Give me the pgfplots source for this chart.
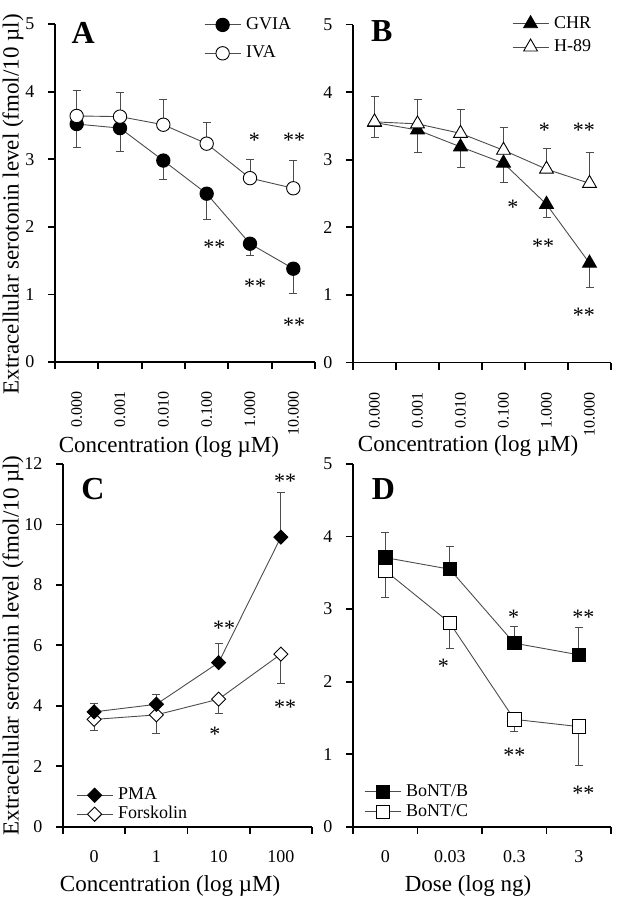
\documentclass[border=0pt]{standalone}
\usepackage{fontspec}
\setmainfont{Liberation Serif}
\usepackage{pgfplots}
\pgfplotsset{compat=1.18}

\newcommand{\fs}[1]{\fontsize{#1}{#1}\selectfont}

\tikzset{
  ast/.style={font=\fs{22}, yshift=-3.5pt},
  lett/.style={font=\bfseries\fs{32}},
}

\pgfplotsset{
  panel/.style={
    scale only axis,
    axis x line*=bottom, axis y line*=left,
    axis line style={line width=1.8pt, black},
    tick align=outside,
    major tick length=7pt, minor tick length=7pt,
    tick style={line width=1.8pt, black},
    major x tick style={draw=none},
    /pgf/number format/assume math mode=true,
    tick label style={font=\fs{18}},
    yticklabel style={xshift=-10pt},
    label style={font=\fs{23}},
    clip=false,
    legend style={draw=none, fill=none, inner sep=0pt, font=\fs{18},
      nodes={inner sep=1pt, text height=13pt, text depth=4pt},
      column sep=4pt, legend cell align=left, anchor=north west},
    legend image code/.code={\draw[mark repeat=2,mark phase=2,##1] plot coordinates {(0pt,0pt) (18pt,0pt) (36pt,0pt)};},
  },
  rotlab/.style={xticklabel style={yshift=-19pt, rotate=90, anchor=east, font=\fs{16}}},
  flatlab/.style={xticklabel style={yshift=-13pt}},
  ser/.style={line width=0.9pt, black!70},
  full/.style={mark options={draw=black, fill=black, line width=0.9pt, solid}},
  open/.style={mark options={draw=black, fill=white, line width=0.9pt, solid}},
  fulld/.style={mark options={draw=black, fill=black, line width=0.9pt, solid, rotate=45}},
  opend/.style={mark options={draw=black, fill=white, line width=0.9pt, solid, rotate=45}},
  ebm/.style={error bars/y dir=minus, error bars/y explicit,
    error bars/error bar style={line width=0.9pt, black!70},
    error bars/error mark options={rotate=90, mark size=4pt, line width=0.9pt, black!70}},
  ebp/.style={error bars/y dir=plus, error bars/y explicit,
    error bars/error bar style={line width=0.9pt, black!70},
    error bars/error mark options={rotate=90, mark size=4pt, line width=0.9pt, black!70}},
}

\begin{document}
\begin{tikzpicture}
\path[use as bounding box] (0pt,0pt) rectangle (619pt,-900pt);

% ---- A ----
\begin{axis}[panel, rotlab, at={(55pt,-362pt)}, anchor=south west, width=260pt, height=338pt,
  xmin=-0.5, xmax=5.5, ymin=0, ymax=5, ytick={0,...,5},
  xtick={0,...,5}, xticklabels={0.000,0.001,0.010,0.100,1.000,10.000},
  minor xtick={-0.5,0.5,...,5.5},
  xlabel={Concentration (log µM)},
  ylabel={Extracellular serotonin level (fmol/10 µl)},
  xlabel style={at={(axis description cs:0.438,-0.25)}, anchor=center},
  ylabel style={at={(axis description cs:-0.1615,0.467)}, anchor=center},
  legend style={at={(rel axis cs:0.573,1.026)}, row sep=9.4pt}]
\addplot[ser, mark=*, mark size=6.7pt, full, ebm] coordinates {
  (0,3.52) +- (0,0.35) (1,3.46) +- (0,0.34) (2,2.98) +- (0,0.28)
  (3,2.49) +- (0,0.38) (4,1.75) +- (0,0.17) (5,1.38) +- (0,0.37)};
\addlegendentry{GVIA}
\addplot[ser, mark=*, mark size=6.7pt, open, ebp] coordinates {
  (0,3.64) +- (0,0.37) (1,3.63) +- (0,0.36) (2,3.51) +- (0,0.37)
  (3,3.23) +- (0,0.32) (4,2.72) +- (0,0.27) (5,2.57) +- (0,0.41)};
\addlegendentry{IVA}
\node[lett] at (rel axis cs:0.108,0.973) {A};
\node[ast] at (axis cs:4.1,3.33) {*};
\node[ast] at (axis cs:5.02,3.33) {**};
\node[ast] at (axis cs:3.18,1.75) {**};
\node[ast] at (axis cs:4.12,1.17) {**};
\node[ast] at (axis cs:5.02,0.59) {**};
\end{axis}

% ---- B ----
\begin{axis}[panel, rotlab, at={(353pt,-362.5pt)}, anchor=south west, width=258pt, height=338pt,
  xmin=-0.5, xmax=5.5, ymin=0, ymax=5, ytick={0,...,5},
  xtick={0,...,5}, xticklabels={0.000,0.001,0.010,0.100,1.000,10.000},
  minor xtick={-0.5,0.5,...,5.5},
  xlabel={Concentration (log µM)},
  xlabel style={at={(axis description cs:0.446,-0.248)}, anchor=center},
  legend style={at={(rel axis cs:0.616,1.031)}, row sep=4.3pt}]
\addplot[ser, mark=triangle*, mark size=8pt, full, ebm] coordinates {
  (0,3.55) +- (0,0.22) (1,3.44) +- (0,0.34) (2,3.19) +- (0,0.30)
  (3,2.95) +- (0,0.29) (4,2.34) +- (0,0.19) (5,1.47) +- (0,0.36)};
\addlegendentry{CHR}
\addplot[ser, mark=triangle*, mark size=8pt, open, ebp] coordinates {
  (0,3.56) +- (0,0.37) (1,3.53) +- (0,0.36) (2,3.39) +- (0,0.36)
  (3,3.14) +- (0,0.33) (4,2.86) +- (0,0.31) (5,2.65) +- (0,0.45)};
\addlegendentry{H-89}
\node[lett] at (rel axis cs:0.112,0.981) {B};
\node[ast] at (axis cs:3.95,3.49) {*};
\node[ast] at (axis cs:4.87,3.49) {**};
\node[ast] at (axis cs:3.22,2.35) {*};
\node[ast] at (axis cs:3.92,1.77) {**};
\node[ast] at (axis cs:4.87,0.75) {**};
\end{axis}

% ---- C ----
\begin{axis}[panel, flatlab, at={(63pt,-826.7pt)}, anchor=south west, width=249pt, height=362.7pt,
  xmin=-0.5, xmax=3.5, ymin=0, ymax=12, ytick={0,2,...,12},
  xtick={0,...,3}, xticklabels={0,1,10,100},
  minor xtick={-0.5,0.5,...,3.5},
  xlabel={Concentration (log µM)},
  ylabel={Extracellular serotonin level (fmol/10 µl)},
  xlabel style={at={(axis description cs:0.43,-0.163)}, anchor=center},
  ylabel style={at={(axis description cs:-0.2008,0.5)}, anchor=center},
  reverse legend,
  legend style={at={(rel axis cs:0.052,0.1136)}, row sep=0pt}]
\addplot[ser, mark=square*, mark size=5pt, opend, ebm] coordinates {
  (0,3.55) +- (0,0.35) (1,3.70) +- (0,0.61) (2,4.22) +- (0,0.48) (3,5.71) +- (0,0.97)};
\addlegendentry{Forskolin}
\addplot[ser, mark=square*, mark size=5pt, fulld, ebp] coordinates {
  (0,3.80) +- (0,0.28) (1,4.05) +- (0,0.31) (2,5.43) +- (0,0.64) (3,9.58) +- (0,1.47)};
\addlegendentry{PMA}
\node[lett] at (rel axis cs:0.12,0.93) {C};
\node[ast] at (axis cs:3.07,11.56) {**};
\node[ast] at (axis cs:2.09,6.69) {**};
\node[ast] at (axis cs:3.07,4.08) {**};
\node[ast] at (axis cs:1.94,3.17) {*};
\end{axis}

% ---- D ----
\begin{axis}[panel, flatlab, at={(353pt,-826.7pt)}, anchor=south west, width=258pt, height=362.7pt,
  xmin=-0.5, xmax=3.5, ymin=0, ymax=5, ytick={0,...,5},
  xtick={0,...,3}, xticklabels={0,0.03,0.3,3},
  minor xtick={-0.5,0.5,...,3.5},
  xlabel={Dose (log ng)},
  xlabel style={at={(axis description cs:0.446,-0.163)}, anchor=center},
  reverse legend,
  legend style={at={(rel axis cs:0.043,0.1227)}, row sep=1pt}]
\addplot[ser, mark=square*, mark size=6.7pt, open, ebm] coordinates {
  (0,3.53) +- (0,0.37) (1,2.81) +- (0,0.35) (2,1.48) +- (0,0.17) (3,1.38) +- (0,0.54)};
\addlegendentry{BoNT/C}
\addplot[ser, mark=square*, mark size=6.7pt, full, ebp] coordinates {
  (0,3.71) +- (0,0.35) (1,3.55) +- (0,0.32) (2,2.53) +- (0,0.23) (3,2.37) +- (0,0.38)};
\addlegendentry{BoNT/B}
\node[lett] at (rel axis cs:0.118,0.932) {D};
\node[ast] at (axis cs:1.99,2.94) {*};
\node[ast] at (axis cs:3.07,2.94) {**};
\node[ast] at (axis cs:0.9,2.26) {*};
\node[ast] at (axis cs:2.0,1.03) {**};
\node[ast] at (axis cs:3.07,0.51) {**};
\end{axis}
\end{tikzpicture}
\end{document}
